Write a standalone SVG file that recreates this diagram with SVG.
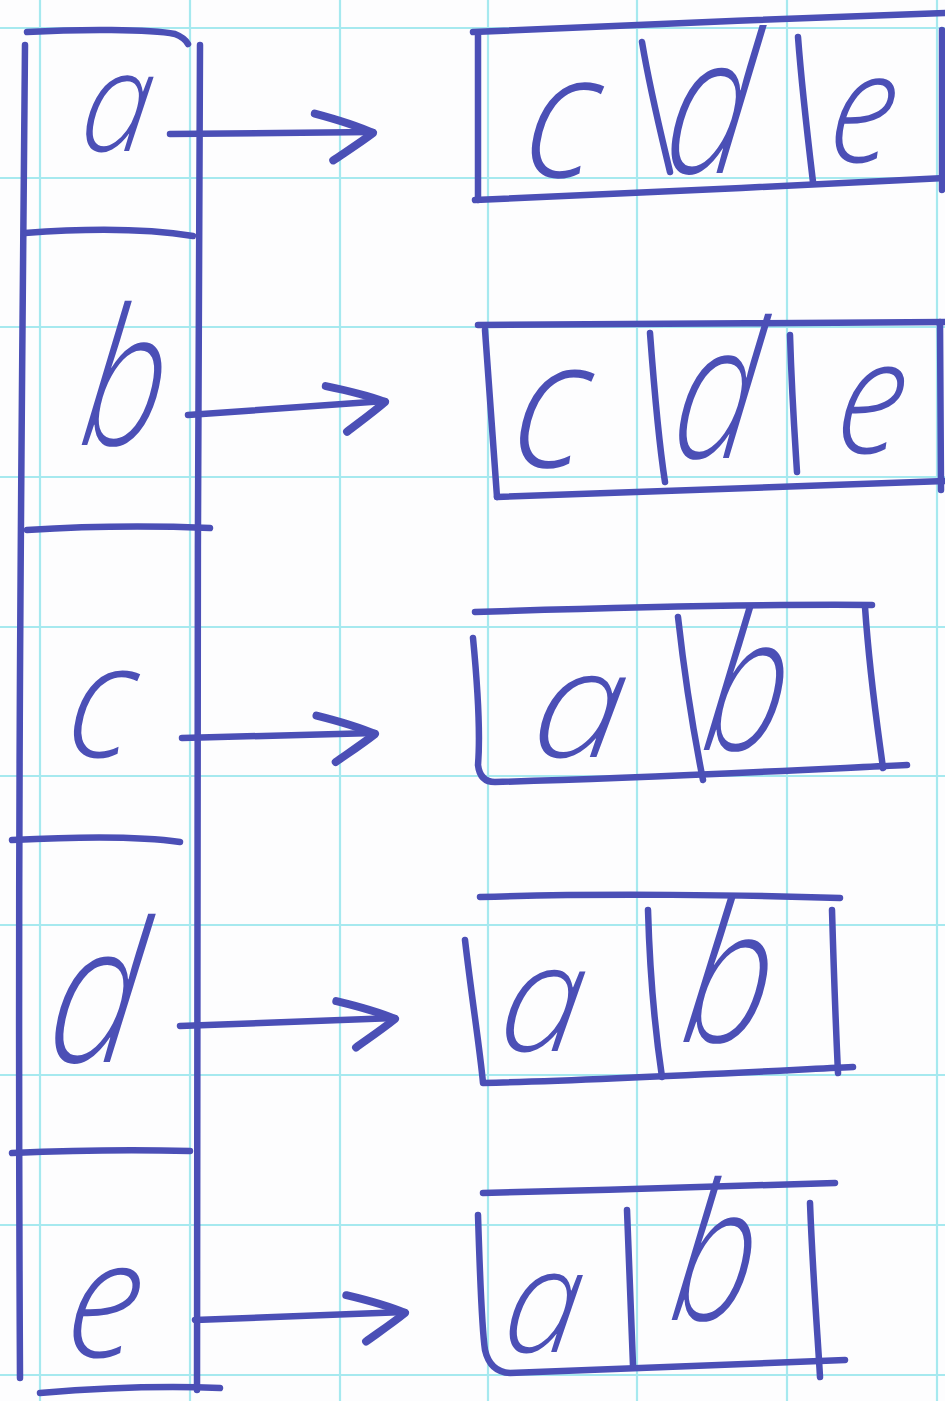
<svg xmlns="http://www.w3.org/2000/svg" width="945" height="1401" viewBox="0 0 945 1401">
<style>
.grid line{stroke:#a6e9ef;stroke-width:2.2}
.ink{fill:none;stroke:#4b4fb6;stroke-width:6.5;stroke-linecap:round;stroke-linejoin:round}
.lbl{font-family:"Open Sans","Noto Sans","DejaVu Sans",sans-serif;font-style:italic;font-weight:300;fill:#4b4fb6;text-anchor:middle}
</style>
<defs>
<marker id="chev" markerUnits="userSpaceOnUse" markerWidth="120" markerHeight="120" refX="0" refY="0" orient="auto" overflow="visible">
<path d="M-58,-19 C-40,-14 -15,-6 0,1 C-12,10 -28,20 -40,28" fill="none" stroke="#4b4fb6" stroke-width="8" stroke-linecap="round" stroke-linejoin="round"/>
</marker>
</defs>
<rect width="945" height="1401" fill="#fdfdfe"/>
<g class="grid">
<line x1="40" y1="0" x2="40" y2="1401"/><line x1="190" y1="0" x2="190" y2="1401"/><line x1="340" y1="0" x2="340" y2="1401"/><line x1="488" y1="0" x2="488" y2="1401"/><line x1="637" y1="0" x2="637" y2="1401"/><line x1="787" y1="0" x2="787" y2="1401"/><line x1="937" y1="0" x2="937" y2="1401"/>
<line x1="0" y1="28" x2="945" y2="28"/><line x1="0" y1="178" x2="945" y2="178"/><line x1="0" y1="327" x2="945" y2="327"/><line x1="0" y1="477" x2="945" y2="477"/><line x1="0" y1="627" x2="945" y2="627"/><line x1="0" y1="776" x2="945" y2="776"/><line x1="0" y1="925" x2="945" y2="925"/><line x1="0" y1="1075" x2="945" y2="1075"/><line x1="0" y1="1225" x2="945" y2="1225"/><line x1="0" y1="1375" x2="945" y2="1375"/>
</g>
<g id="vertex-list">
<path class="ink" d="M25,45 C22,400 17,800 20,1378"/>
<path class="ink" d="M200,45 C198,500 196,900 197,1390"/>
<g id="vertex-a"><path class="ink" d="M27,32 C80,29 150,29 175,34 Q185,38 188,44"/><text class="lbl" transform="translate(112,151) skewX(-8) scale(0.9,1)" font-size="140">a</text></g>
<g id="vertex-b"><path class="ink" d="M25,233 C90,228 150,229 193,236"/><text class="lbl" transform="translate(118,445) skewX(-8) scale(0.75,1)" font-size="190">b</text></g>
<g id="vertex-c"><path class="ink" d="M27,530 C90,526 160,526 210,528"/><text class="lbl" transform="translate(95,757) skewX(-8) scale(0.9,1)" font-size="160">c</text></g>
<g id="vertex-d"><path class="ink" d="M12,840 C70,837 140,836 180,842"/><text class="lbl" transform="translate(88,1062) skewX(-8) scale(0.8,1)" font-size="195">d</text></g>
<g id="vertex-e"><path class="ink" d="M12,1153 C80,1150 150,1150 190,1151"/><path class="ink" d="M40,1393 C100,1388 170,1386 220,1388"/><text class="lbl" transform="translate(98,1357) skewX(-8) scale(0.9,1)" font-size="165">e</text></g>
</g>
<g id="connectors">
<path class="ink" d="M170,134 L373,132" marker-end="url(#chev)"/>
<path class="ink" d="M188,415 L385,401" marker-end="url(#chev)"/>
<path class="ink" d="M182,738 L375,733" marker-end="url(#chev)"/>
<path class="ink" d="M180,1026 L395,1018" marker-end="url(#chev)"/>
<path class="ink" d="M195,1320 L405,1312" marker-end="url(#chev)"/>
</g>
<g id="list-a">
<path class="ink" d="M473,32 C600,26 800,18 945,13"/>
<path class="ink" d="M478,35 L478,200"/>
<path class="ink" d="M475,200 C600,195 800,185 945,178"/>
<path class="ink" d="M942,30 L942,190"/>
<path class="ink" d="M642,42 C650,90 660,130 670,172"/>
<path class="ink" d="M798,37 C802,90 808,140 813,182"/>
<text class="lbl" transform="translate(555,177) skewX(-8) scale(0.9,1)" font-size="175">c</text>
<text class="lbl" transform="translate(702,173) skewX(-8) scale(0.75,1)" font-size="195">d</text>
<text class="lbl" transform="translate(857,162) skewX(-8) scale(0.85,1)" font-size="155">e</text>
</g>
<g id="list-b">
<path class="ink" d="M478,325 C600,323 800,324 945,322"/>
<path class="ink" d="M485,330 C490,400 494,450 497,497"/>
<path class="ink" d="M497,497 C650,492 800,485 945,481"/>
<path class="ink" d="M940,322 L941,490"/>
<path class="ink" d="M650,333 C655,400 660,450 665,482"/>
<path class="ink" d="M790,335 C792,400 795,440 797,472"/>
<text class="lbl" transform="translate(544,467) skewX(-8) scale(0.9,1)" font-size="180">c</text>
<text class="lbl" transform="translate(709,458) skewX(-8) scale(0.75,1)" font-size="190">d</text>
<text class="lbl" transform="translate(865,453) skewX(-8) scale(0.85,1)" font-size="160">e</text>
</g>
<g id="list-c">
<path class="ink" d="M475,612 C600,608 750,604 872,605"/>
<path class="ink" d="M473,638 C478,690 480,740 478,765 Q480,782 495,782 C650,778 800,770 907,765"/>
<path class="ink" d="M865,607 C870,680 878,730 883,768"/>
<path class="ink" d="M678,617 C685,680 695,740 703,780"/>
<text class="lbl" transform="translate(574,757) skewX(-8) scale(1.1,1)" font-size="150">a</text>
<text class="lbl" transform="translate(740,750) skewX(-8) scale(0.75,1)" font-size="190">b</text>
</g>
<g id="list-d">
<path class="ink" d="M480,897 C600,893 750,895 840,898"/>
<path class="ink" d="M465,940 C472,1000 480,1050 483,1083 C600,1080 750,1072 853,1067"/>
<path class="ink" d="M832,910 C834,980 836,1030 838,1073"/>
<path class="ink" d="M648,910 C650,980 655,1030 662,1077"/>
<text class="lbl" transform="translate(537,1051) skewX(-8) scale(1.0,1)" font-size="150">a</text>
<text class="lbl" transform="translate(722,1042) skewX(-8) scale(0.8,1)" font-size="190">b</text>
</g>
<g id="list-e">
<path class="ink" d="M483,1193 C600,1190 750,1186 835,1183"/>
<path class="ink" d="M478,1215 C480,1280 482,1330 485,1350 Q490,1372 510,1373 C650,1368 780,1362 845,1360"/>
<path class="ink" d="M810,1203 C813,1280 818,1340 820,1377"/>
<path class="ink" d="M627,1210 C630,1280 632,1330 633,1365"/>
<text class="lbl" transform="translate(538,1352) skewX(-8) scale(0.95,1)" font-size="145">a</text>
<text class="lbl" transform="translate(708,1320) skewX(-8) scale(0.75,1)" font-size="190">b</text>
</g>
</svg>
